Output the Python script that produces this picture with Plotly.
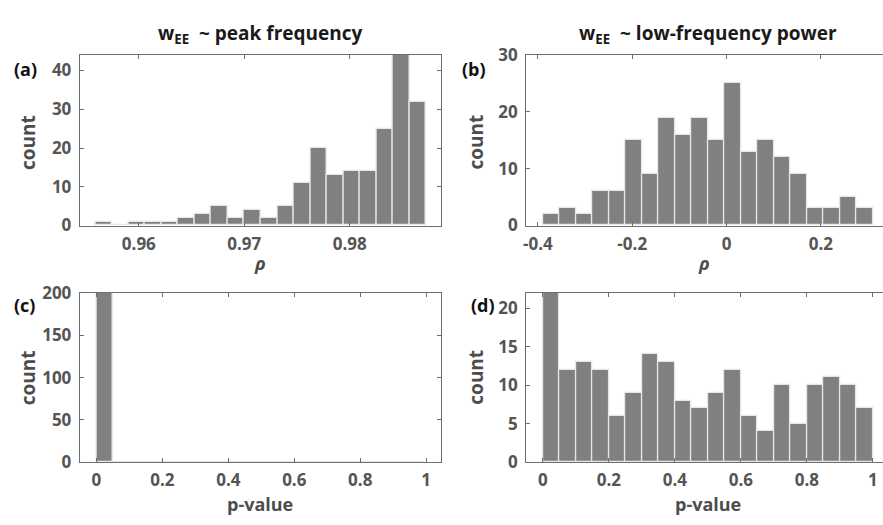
import plotly.graph_objects as go

# ---- data ----
# (a) w_EE ~ peak frequency : rho histogram
a_bin_start = 0.9559
a_bin_width = 0.001566
a_counts = [1, 0, 1, 1, 1, 2, 3, 5, 2, 4, 2, 5, 11, 20, 13, 14, 14, 25, 44, 32]

# (b) w_EE ~ low-frequency power : rho histogram
b_bin_start = -0.3895
b_bin_width = 0.035
b_counts = [2, 3, 2, 6, 6, 15, 9, 19, 16, 19, 15, 25, 13, 15, 12, 9, 3, 3, 5, 3]

# (c) p-values for peak frequency
c_bin_start = 0.0
c_bin_width = 0.05
c_counts = [200] + [0] * 19

# (d) p-values for low-frequency power
d_bin_start = 0.0
d_bin_width = 0.05
d_counts = [22, 12, 13, 12, 6, 9, 14, 13, 8, 7, 9, 12, 6, 4, 10, 5, 10, 11, 10, 7]

a_xticks = [0.96, 0.97, 0.98]
a_xticklabels = ["0.96", "0.97", "0.98"]
b_xticks = [-0.4, -0.2, 0, 0.2]
b_xticklabels = ["-0.4", "-0.2", "0", "0.2"]
p_xticks = [0, 0.2, 0.4, 0.6, 0.8, 1]
p_xticklabels = ["0", "0.2", "0.4", "0.6", "0.8", "1"]
a_yticks = [0, 10, 20, 30, 40]
b_yticks = [0, 10, 20, 30]
c_yticks = [0, 50, 100, 150, 200]
d_yticks = [0, 5, 10, 15, 20]

titles = ["w<sub>EE</sub>  ~ peak frequency", "w<sub>EE</sub>  ~ low-frequency power"]
panel_labels = ["(a)", "(b)", "(c)", "(d)"]

# ---- figure ----
W, H = 883, 525
FONT = "Open Sans"
TICKC = "#555555"
LINEC = "#6e6e6e"
BARC = "#808080"
EDGEC = "#e6e6e6"

def px(x):
    return x / W

def py(y):
    return 1 - y / H

fig = go.Figure()

panels = [
    (a_bin_start, a_bin_width, a_counts, "x", "y"),
    (b_bin_start, b_bin_width, b_counts, "x2", "y2"),
    (c_bin_start, c_bin_width, c_counts, "x3", "y3"),
    (d_bin_start, d_bin_width, d_counts, "x4", "y4"),
]
for start, width, counts, xa, ya in panels:
    centers = [start + width * (i + 0.5) for i in range(len(counts))]
    fig.add_trace(go.Bar(
        x=centers, y=counts, width=[width] * len(counts),
        marker=dict(color=BARC, line=dict(color=EDGEC, width=1.3)),
        xaxis=xa, yaxis=ya, showlegend=False, hoverinfo="skip",
    ))

tickfont = dict(family=FONT, size=17, color=TICKC, weight="bold")

def xaxis(domain, rng, tv, tt, anchor):
    return dict(domain=domain, range=rng, tickvals=tv, ticktext=tt, anchor=anchor,
                showline=True, linecolor=LINEC, linewidth=1, mirror="ticks",
                ticks="inside", ticklen=4, tickcolor=LINEC, showgrid=False,
                zeroline=False, tickfont=tickfont, ticklabelstandoff=3,
                ticklabeloverflow="allow")

def yaxis(domain, rng, tv, anchor, mirror=True):
    return dict(domain=domain, range=rng, tickvals=tv, anchor=anchor,
                showline=True, linecolor=LINEC, linewidth=1,
                mirror="ticks" if mirror else False,
                ticks="inside", ticklen=4, tickcolor=LINEC, showgrid=False,
                zeroline=False, tickfont=tickfont, ticklabelstandoff=4,
                ticklabeloverflow="allow")

top_dom = [py(223.3), py(45)]
bot_dom = [py(470.7), py(294)]
left_dom = [px(77), px(439.5)]
right_dom = [px(525), 1.0]

fig.update_layout(
    width=W, height=H,
    margin=dict(l=0, r=0, t=0, b=0),
    paper_bgcolor="white", plot_bgcolor="white",
    bargap=0,
    xaxis=xaxis(left_dom, [0.9544, 0.98865], a_xticks, a_xticklabels, "y"),
    yaxis=yaxis(top_dom, [0, 44], a_yticks, "x"),
    xaxis2=xaxis(right_dom, [-0.4247, 0.3316], b_xticks, b_xticklabels, "y2"),
    yaxis2=yaxis(top_dom, [0, 30], b_yticks, "x2", mirror=False),
    xaxis3=xaxis(left_dom, [-0.0506, 1.045], p_xticks, p_xticklabels, "y3"),
    yaxis3=yaxis(bot_dom, [0, 200], c_yticks, "x3"),
    xaxis4=xaxis(right_dom, [-0.0505, 1.031], p_xticks, p_xticklabels, "y4"),
    yaxis4=yaxis(bot_dom, [0, 22], d_yticks, "x4", mirror=False),
)

ann = []
# column titles
for t, cx in zip(titles, [257.5, 707]):
    ann.append(dict(text=t, x=px(cx), y=py(23), xref="paper", yref="paper",
                    showarrow=False, xanchor="center", yanchor="middle",
                    font=dict(family=FONT, size=19, color="#1a1a1a", weight="bold")))
# panel labels
for lab, (lx, ly) in zip(panel_labels, [(23, 60), (473, 60), (22, 306), (482, 306)]):
    ann.append(dict(text=lab, x=px(lx), y=py(ly), xref="paper", yref="paper",
                    showarrow=False, xanchor="center", yanchor="middle",
                    font=dict(family=FONT, size=18, color="#111111", weight="bold")))
# y-axis titles
for cx, cy in [(25, 136), (475, 136), (25, 382), (475, 382)]:
    ann.append(dict(text="count", x=px(cx), y=py(cy), xref="paper", yref="paper",
                    showarrow=False, xanchor="center", yanchor="middle", textangle=-90,
                    font=dict(family=FONT, size=19, color="#4d4d4d", weight="bold")))
# x-axis titles
for txt, cx, cy in [("<i>ρ</i>", 258, 262), ("<i>ρ</i>", 703, 262),
                    ("p-value", 258, 515), ("p-value", 707, 515)]:
    ann.append(dict(text=txt, x=px(cx), y=py(cy), xref="paper", yref="paper",
                    showarrow=False, xanchor="center", yanchor="middle",
                    font=dict(family=FONT, size=18, color="#4d4d4d", weight="bold")))
fig.update_layout(annotations=ann)

fig.write_html("out.html", config={"displayModeBar": False},
               post_script="document.body.style.margin='0';")
